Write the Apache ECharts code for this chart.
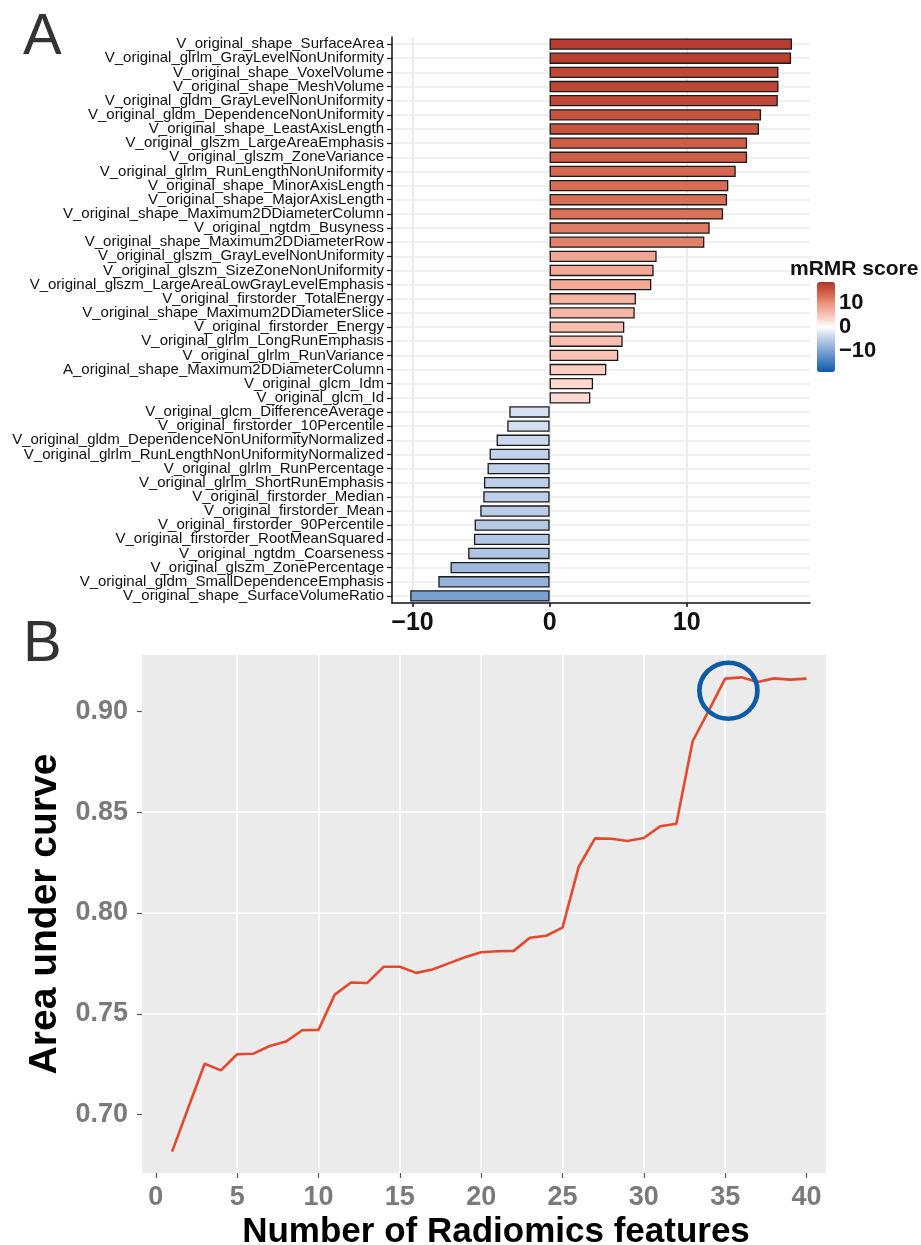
<!DOCTYPE html>
<html>
<head>
<meta charset="utf-8">
<title>mRMR score and AUC</title>
<script src="https://cdn.jsdelivr.net/npm/echarts@6.0.0/dist/echarts.min.js"></script>
<style>
  html, body { margin: 0; padding: 0; background: #fff; }
  #chart { width: 921px; height: 1245px; }
</style>
</head>
<body>
<div id="chart"></div>
<script>
// Panel A: features ranked by mRMR score (top to bottom)
const featureNames = [
    'V_original_shape_SurfaceArea',
    'V_original_glrlm_GrayLevelNonUniformity',
    'V_original_shape_VoxelVolume',
    'V_original_shape_MeshVolume',
    'V_original_gldm_GrayLevelNonUniformity',
    'V_original_gldm_DependenceNonUniformity',
    'V_original_shape_LeastAxisLength',
    'V_original_glszm_LargeAreaEmphasis',
    'V_original_glszm_ZoneVariance',
    'V_original_glrlm_RunLengthNonUniformity',
    'V_original_shape_MinorAxisLength',
    'V_original_shape_MajorAxisLength',
    'V_original_shape_Maximum2DDiameterColumn',
    'V_original_ngtdm_Busyness',
    'V_original_shape_Maximum2DDiameterRow',
    'V_original_glszm_GrayLevelNonUniformity',
    'V_original_glszm_SizeZoneNonUniformity',
    'V_original_glszm_LargeAreaLowGrayLevelEmphasis',
    'V_original_firstorder_TotalEnergy',
    'V_original_shape_Maximum2DDiameterSlice',
    'V_original_firstorder_Energy',
    'V_original_glrlm_LongRunEmphasis',
    'V_original_glrlm_RunVariance',
    'A_original_shape_Maximum2DDiameterColumn',
    'V_original_glcm_Idm',
    'V_original_glcm_Id',
    'V_original_glcm_DifferenceAverage',
    'V_original_firstorder_10Percentile',
    'V_original_gldm_DependenceNonUniformityNormalized',
    'V_original_glrlm_RunLengthNonUniformityNormalized',
    'V_original_glrlm_RunPercentage',
    'V_original_glrlm_ShortRunEmphasis',
    'V_original_firstorder_Median',
    'V_original_firstorder_Mean',
    'V_original_firstorder_90Percentile',
    'V_original_firstorder_RootMeanSquared',
    'V_original_ngtdm_Coarseness',
    'V_original_glszm_ZonePercentage',
    'V_original_gldm_SmallDependenceEmphasis',
    'V_original_shape_SurfaceVolumeRatio'
];
const mrmrScores = [
    17.69, 17.62, 16.70, 16.70, 16.65, 15.43, 15.28, 14.41, 14.41, 13.58,
    13.04, 12.95, 12.66, 11.68, 11.29, 7.81, 7.59, 7.42, 6.30, 6.21,
    5.45, 5.33, 5.01, 4.14, 3.17, 2.97, -2.94, -3.09, -3.87, -4.38,
    -4.53, -4.79, -4.84, -5.06, -5.47, -5.52, -5.94, -7.23, -8.12, -10.17
];
const scoreTicks = [-10, 0, 10];
const legendTicks = [-10, 0, 10];

// Panel B: AUC against number of features
const featureCounts = [
    1, 2, 3, 4, 5, 6, 7, 8, 9, 10, 11, 12, 13, 14, 15, 16, 17, 18, 19, 20,
    21, 22, 23, 24, 25, 26, 27, 28, 29, 30, 31, 32, 33, 34, 35, 36, 37, 38, 39, 40
];
const aucValues = [
    0.6816, 0.7035, 0.7252, 0.7219, 0.7299, 0.7302, 0.7340, 0.7362, 0.7418, 0.7420,
    0.7595, 0.7655, 0.7653, 0.7733, 0.7733, 0.7703, 0.7720, 0.7750, 0.7780, 0.7805,
    0.7810, 0.7812, 0.7877, 0.7887, 0.7927, 0.8230, 0.8370, 0.8368, 0.8357, 0.8372,
    0.8430, 0.8443, 0.8852, 0.9005, 0.9163, 0.9169, 0.9146, 0.9164, 0.9158, 0.9163
];
const highlightPoint = [35.2, 0.9103];
const countTicks = [0, 5, 10, 15, 20, 25, 30, 35, 40];
const aucTicks = [0.70, 0.75, 0.80, 0.85, 0.90];

const FONT = "'Liberation Sans', Arial, Helvetica, sans-serif";
const minus = v => (v < 0 ? '\u2212' + Math.abs(v) : String(v));

const chart = echarts.init(document.getElementById('chart'));

const option = {
    backgroundColor: '#ffffff',
    animation: false,
    textStyle: { fontFamily: FONT },
    title: [
        { text: 'A', left: 18, top: 4, textStyle: { fontSize: 58, fontWeight: 'normal', color: '#333', fontFamily: FONT } },
        { text: 'B', left: 18, top: 611, textStyle: { fontSize: 58, fontWeight: 'normal', color: '#333', fontFamily: FONT } },
        { text: 'mRMR score', left: 790, top: 259, padding: 0, textStyle: { fontSize: 21, fontWeight: 'bold', color: '#111', fontFamily: FONT } }
    ],
    visualMap: {
        type: 'continuous',
        seriesIndex: 0,
        dimension: 0,
        min: -18.5,
        max: 18.5,
        calculable: false,
        realtime: false,
        orient: 'vertical',
        left: 817,
        top: 282,
        itemWidth: 18,
        itemHeight: 90,
        padding: 0,
        text: null,
        inRange: {
            color: ['#0B5BAA', '#4A80C0', '#86A8D5', '#BFD0E9', '#FFFFFF',
                    '#FAC6B8', '#ED9882', '#D3634B', '#B2352A']
        }
    },
    grid: [
        { left: 392, right: 111, top: 37, bottom: 642, outerBoundsMode: 'none' },
        { left: 142, right: 95, top: 655, bottom: 72, outerBoundsMode: 'none', show: true, backgroundColor: '#EBEBEB', borderWidth: 0 },
        { left: 817, top: 282, width: 18, height: 90, outerBoundsMode: 'none' }
    ],
    xAxis: [
        {
            gridIndex: 0, type: 'value', min: -11.5, max: 19, splitNumber: 5, position: 'bottom',
            axisLine: { show: true, onZero: false, lineStyle: { color: '#111', width: 1.5 } },
            axisTick: { show: true, inside: false, customValues: scoreTicks, length: 4, lineStyle: { color: '#111', width: 1.5 } },
            axisLabel: {
                customValues: scoreTicks, margin: 8, formatter: minus,
                fontSize: 25, fontWeight: 'bold', color: '#111', fontFamily: FONT
            },
            splitLine: { show: true, showMinLine: false, showMaxLine: false, lineStyle: { color: '#EBEBEB', width: 1 } }
        },
        {
            gridIndex: 0, type: 'value', min: -11.5, max: 19, splitNumber: 3, position: 'bottom',
            axisLine: { show: false, onZero: false }, axisTick: { show: false }, axisLabel: { show: false },
            splitLine: { show: true, showMinLine: false, showMaxLine: false, lineStyle: { color: '#EBEBEB', width: 2 } }
        },
        {
            gridIndex: 1, type: 'value', min: -0.85, max: 41.2, splitNumber: 8, position: 'bottom',
            name: 'Number of Radiomics features', nameLocation: 'middle', nameGap: 42,
            nameTextStyle: { fontSize: 35, fontWeight: 'bold', color: '#000', fontFamily: FONT, padding: [0, 0, 0, 24] },
            axisLine: { show: false, onZero: false },
            axisTick: { show: true, inside: false, customValues: countTicks, length: 5, lineStyle: { color: '#555', width: 1.2 } },
            axisLabel: {
                customValues: countTicks, margin: 11,
                fontSize: 27, fontWeight: 'bold', color: '#7A7A7A', fontFamily: FONT
            },
            splitLine: { show: true, showMinLine: false, showMaxLine: false, lineStyle: { color: '#FFFFFF', width: 1.5 } }
        },
        { gridIndex: 2, type: 'value', min: 0, max: 1, show: false }
    ],
    yAxis: [
        {
            gridIndex: 0, type: 'category', data: featureNames, inverse: true,
            axisLine: { show: true, onZero: false, lineStyle: { color: '#111', width: 1.5 } },
            axisTick: { show: true, inside: false, alignWithLabel: true, length: 5, lineStyle: { color: '#111', width: 1.2 } },
            axisLabel: { interval: 0, margin: 8, fontSize: 15, color: '#111', fontFamily: FONT },
            splitLine: { show: true, alignWithLabel: true, interval: 0, lineStyle: { color: '#EBEBEB', width: 1.7 } }
        },
        {
            gridIndex: 1, type: 'value', min: 0.671, max: 0.928, position: 'left',
            name: 'Area under curve', nameLocation: 'middle', nameGap: 62, nameRotate: 90,
            nameTextStyle: { fontSize: 39, fontWeight: 'bold', color: '#000', fontFamily: FONT },
            axisLine: { show: false, onZero: false },
            axisTick: { show: true, inside: false, customValues: aucTicks, length: 5, lineStyle: { color: '#555', width: 1.2 } },
            axisLabel: {
                customValues: aucTicks, margin: 14, formatter: v => v.toFixed(2),
                fontSize: 27, fontWeight: 'bold', color: '#7A7A7A', fontFamily: FONT
            },
            splitLine: { show: true, showMinLine: false, showMaxLine: false, lineStyle: { color: '#FFFFFF', width: 1.5 } }
        },
        {
            gridIndex: 2, type: 'value', min: -18.5, max: 18.5, position: 'right',
            axisLine: { show: false, onZero: false },
            axisTick: { show: true, inside: true, customValues: legendTicks, length: 4, lineStyle: { color: '#fff', width: 1 } },
            axisLabel: {
                customValues: legendTicks, margin: 4, formatter: minus, padding: [9, 0, 0, 0],
                fontSize: 22, fontWeight: 'bold', color: '#111', fontFamily: FONT
            },
            splitLine: { show: false }
        },
        {
            gridIndex: 2, type: 'value', min: -18.5, max: 18.5, position: 'left',
            axisLine: { show: false, onZero: false },
            axisTick: { show: true, inside: true, customValues: legendTicks, length: 4, lineStyle: { color: '#fff', width: 1 } },
            axisLabel: { show: false },
            splitLine: { show: false }
        }
    ],
    series: [
        {
            name: 'mRMR score',
            type: 'bar',
            xAxisIndex: 0,
            yAxisIndex: 0,
            encode: { x: 0, y: 1 },
            data: mrmrScores.map((v, i) => [v, featureNames[i]]),
            barCategoryGap: '20%',
            itemStyle: { borderColor: '#1a1a1a', borderWidth: 1.3 },
            z: 3
        },
        {
            name: 'AUC',
            type: 'line',
            xAxisIndex: 2,
            yAxisIndex: 1,
            data: featureCounts.map((n, i) => [n, aucValues[i]]),
            showSymbol: false,
            symbol: 'none',
            lineStyle: { color: '#E5482C', width: 2.6 },
            z: 3
        },
        {
            name: 'Selected',
            type: 'scatter',
            xAxisIndex: 2,
            yAxisIndex: 1,
            data: [highlightPoint],
            symbol: 'circle',
            symbolSize: [58, 56],
            silent: true,
            itemStyle: { color: 'rgba(0,0,0,0)', borderColor: '#0C5AA8', borderWidth: 4.6, opacity: 1 },
            z: 4
        }
    ]
};

chart.setOption(option);
</script>
</body>
</html>
